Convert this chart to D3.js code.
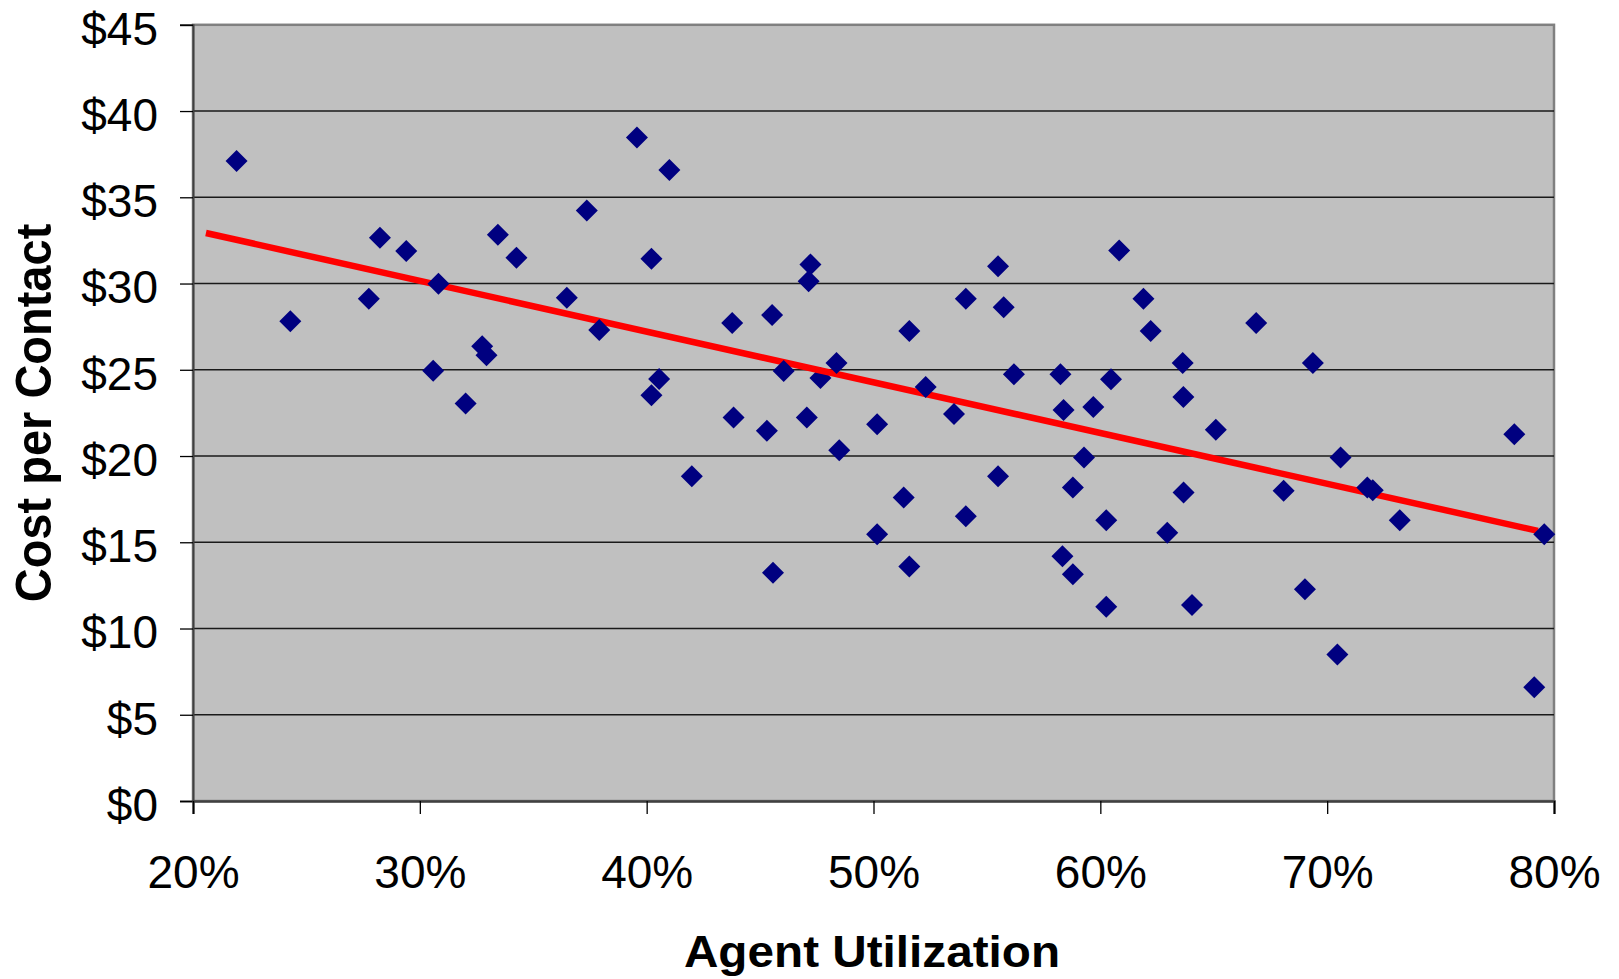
<!DOCTYPE html>
<html>
<head>
<meta charset="utf-8">
<script src="https://cdn.jsdelivr.net/npm/d3@7"></script>
<style>
  html, body { margin: 0; padding: 0; background: #ffffff; }
  svg { display: block; font-family: Arial, "Liberation Sans", sans-serif; }
</style>
</head>
<body>
<svg id="chart" width="1619" height="979"></svg>
<script>
// Agent utilization (%) for each contact centre
const utilization = [
  21.92, 24.29, 27.75, 28.24, 29.40, 30.82, 30.59, 32.02, 32.75, 32.94,
  33.44, 34.26, 36.48, 37.36, 37.91, 39.57, 40.21, 41.00, 40.21, 40.55,
  41.99, 43.77, 43.83, 45.30, 45.53, 45.57, 46.04, 47.14, 47.22, 47.06,
  47.66, 48.37, 48.49, 50.16, 50.16, 51.33, 51.58, 51.58, 52.30, 53.55,
  54.07, 54.07, 55.49, 55.49, 55.74, 56.19, 58.24, 58.38, 58.33, 58.79,
  58.79, 59.28, 59.69, 60.26, 60.26, 60.47, 60.83, 61.90, 62.22, 62.95,
  63.63, 63.66, 63.67, 64.04, 65.09, 66.87, 68.08, 69.02, 69.37, 70.45,
  70.59, 71.77, 72.01, 73.20, 78.25, 79.13, 79.57
];

// Cost per contact ($) for the same centres
const costPerContact = [
  37.10, 27.81, 29.12, 32.66, 31.88, 29.99, 24.95, 23.04, 26.36, 25.84,
  32.83, 31.50, 29.18, 34.24, 27.31, 38.47, 31.44, 36.58, 23.52, 24.47,
  18.83, 27.71, 22.23, 21.46, 28.17, 13.23, 24.93, 30.13, 31.11, 22.23,
  24.52, 25.39, 20.34, 21.84, 15.47, 17.59, 27.25, 13.60, 24.00, 22.44,
  29.12, 16.51, 31.00, 18.83, 28.62, 24.74, 24.74, 22.67, 14.19, 18.17,
  13.15, 19.91, 22.84, 16.28, 11.26, 24.45, 31.92, 29.12, 27.25, 15.55,
  25.39, 23.42, 17.88, 11.36, 21.53, 27.71, 17.98, 12.28, 25.39, 8.50,
  19.91, 18.17, 18.02, 16.28, 21.26, 6.59, 15.47
];

// Markers painted beneath the trendline (all others sit above it)
const belowTrendIndex = [30];

// Linear trendline end points (utilization %, cost $)
const trendUtilization = [20.57, 79.29];
const trendCost = [32.93, 15.66];

// Axis ticks and their labels
const xTickValues = [20, 30, 40, 50, 60, 70, 80];
const xTickLabels = ["20%", "30%", "40%", "50%", "60%", "70%", "80%"];
const yTickValues = [0, 5, 10, 15, 20, 25, 30, 35, 40, 45];
const yTickLabels = ["$0", "$5", "$10", "$15", "$20", "$25", "$30", "$35", "$40", "$45"];

const xTitle = "Agent Utilization";
const yTitle = "Cost per Contact";

// Plot frame
const plot = { left: 193, right: 1554, top: 24.8, bottom: 801 };

const svg = d3.select("#chart");

const x = d3.scaleLinear().domain([20, 80]).range([plot.left, plot.right]);
const y = d3.scaleLinear().domain([0, 45]).range([plot.bottom, plot.top]);

// Grey plot area
svg.append("rect")
  .attr("x", plot.left)
  .attr("y", plot.top)
  .attr("width", plot.right - plot.left)
  .attr("height", plot.bottom - plot.top)
  .attr("fill", "#c0c0c0")
  .attr("stroke", "#808080")
  .attr("stroke-width", 2.5);

// Horizontal gridlines
svg.append("g")
  .selectAll("line")
  .data(yTickValues.filter(v => v > 0 && v < 45))
  .join("line")
  .attr("x1", plot.left)
  .attr("x2", plot.right)
  .attr("y1", d => y(d))
  .attr("y2", d => y(d))
  .attr("stroke", "#1a1a1a")
  .attr("stroke-width", 1.4);

// Y axis
const yAxis = d3.axisLeft(y)
  .tickValues(yTickValues)
  .tickFormat((d, i) => yTickLabels[i])
  .tickSize(13)
  .tickPadding(22);

const gy = svg.append("g")
  .attr("transform", `translate(${plot.left},0)`)
  .call(yAxis);
gy.select(".domain").attr("stroke", "#404040").attr("stroke-width", 2);
gy.selectAll(".tick line").attr("stroke", "#000").attr("stroke-width", 1.3);
gy.selectAll(".tick text")
  .attr("font-size", 46)
  .attr("fill", "#000")
  .attr("font-family", "Arial, 'Liberation Sans', sans-serif")
  .attr("dy", "0.42em");

// X axis
const xAxis = d3.axisBottom(x)
  .tickValues(xTickValues)
  .tickFormat((d, i) => xTickLabels[i])
  .tickSize(13)
  .tickPadding(0);

const gx = svg.append("g")
  .attr("transform", `translate(0,${plot.bottom})`)
  .call(xAxis);
gx.select(".domain").attr("stroke", "#404040").attr("stroke-width", 2.5);
gx.selectAll(".tick line").attr("stroke", "#000").attr("stroke-width", 1.3);
gx.selectAll(".tick text")
  .attr("font-size", 46)
  .attr("fill", "#000")
  .attr("font-family", "Arial, 'Liberation Sans', sans-serif")
  .attr("y", 87)
  .attr("dy", 0);

// Diamond markers
const points = utilization.map((u, i) => ({ u, c: costPerContact[i], i }));
const diamond = d3.symbol().type(d3.symbolSquare).size(242);

function drawMarkers(data) {
  svg.append("g")
    .selectAll("path")
    .data(data)
    .join("path")
    .attr("d", diamond)
    .attr("transform", d => `translate(${x(d.u)},${y(d.c)}) rotate(45)`)
    .attr("fill", "#000080");
}

drawMarkers(points.filter(d => belowTrendIndex.includes(d.i)));

// Trendline
svg.append("line")
  .attr("x1", x(trendUtilization[0]))
  .attr("y1", y(trendCost[0]))
  .attr("x2", x(trendUtilization[1]))
  .attr("y2", y(trendCost[1]))
  .attr("stroke", "#ff0000")
  .attr("stroke-width", 6.5);

drawMarkers(points.filter(d => !belowTrendIndex.includes(d.i)));

// Axis titles
svg.append("text")
  .attr("transform", "translate(872,967) scale(1.06,1)")
  .attr("text-anchor", "middle")
  .attr("font-size", 45)
  .attr("font-weight", "bold")
  .attr("fill", "#000")
  .text(xTitle);

svg.append("text")
  .attr("transform", "translate(51,413) scale(1.06,1) rotate(-90)")
  .attr("text-anchor", "middle")
  .attr("font-size", 47)
  .attr("font-weight", "bold")
  .attr("fill", "#000")
  .text(yTitle);
</script>
</body>
</html>
